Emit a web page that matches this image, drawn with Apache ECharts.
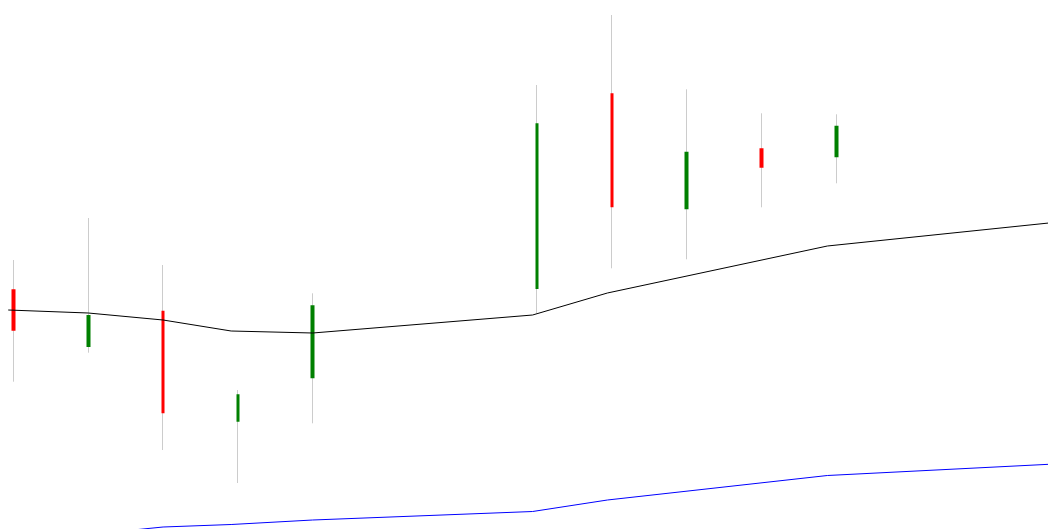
<!DOCTYPE html>
<html>
<head>
<meta charset="utf-8">
<script src="https://cdn.jsdelivr.net/npm/echarts@6/dist/echarts.min.js"></script>
<style>
  html, body { margin: 0; padding: 0; background: #fff; }
  #main { width: 1048px; height: 529px; }
</style>
</head>
<body>
<div id="main"></div>
<script>
    // day index of each candle (gap = no trading)
    const days = [0, 1, 2, 3, 4, 7, 8, 9, 10, 11]
    const opens  = [123.97, 118.2, 121.83, 110.73, 115.07, 124.0, 143.57, 131.97, 138.07, 137.17]
    const closes = [119.83, 121.4, 111.57, 113.47, 122.37, 140.57, 132.17, 137.73, 136.13, 140.33]
    const lows   = [114.73, 117.63, 107.9, 104.6, 110.57, 121.57, 126.07, 126.97, 132.17, 134.57]
    const highs  = [126.9, 131.1, 126.4, 113.9, 123.57, 144.4, 151.4, 143.97, 141.57, 141.47]

    // the two lines (x in day units)
    const lineX     = [-0.07, 1.0, 2.0, 2.91, 4.0, 6.94, 7.94, 10.88, 13.84]
    const blackLine = [121.9, 121.6, 120.9, 119.8, 119.6, 121.4, 123.6, 128.3, 130.6]
    const blueLine  = [99.0, 99.45, 100.2, 100.45, 100.9, 101.75, 102.9, 105.35, 106.47]

    let ohlc = []
    for (let i = 0; i < days.length; i++) {
        ohlc[i] = [days[i], opens[i], closes[i], lows[i], highs[i]]
    }
    let black = lineX.map((x, i) => [x, blackLine[i]])
    let blue = lineX.map((x, i) => [x, blueLine[i]])

    const myCharts = echarts.init(document.getElementById('main'))
    const option = {
        animation: false,
        grid: { left: 0, right: 0, top: 0, bottom: 0 },
        xAxis: {
            type: 'value',
            min: -0.18,
            max: 13.83,
            show: false
        },
        yAxis: {
            type: 'value',
            min: 100,
            max: 152.9,
            show: false
        },
        series: [
            {
                // wicks
                type: 'candlestick',
                data: ohlc,
                encode: { x: 0, y: [1, 2, 3, 4] },
                barWidth: 1,
                itemStyle: {
                    color: '#cccccc', color0: '#cccccc',
                    borderColor: '#cccccc', borderColor0: '#cccccc',
                    borderWidth: 1
                }
            },
            {
                // bodies
                type: 'candlestick',
                data: ohlc,
                encode: { x: 0, y: [1, 2, 3, 4] },
                barWidth: 4,
                itemStyle: {
                    color: '#008000', color0: '#ff0000',
                    borderColor: '#008000', borderColor0: '#ff0000',
                    borderWidth: 0
                }
            },
            {
                type: 'line',
                data: black,
                symbol: 'none',
                lineStyle: { color: '#000', width: 1 }
            },
            {
                type: 'line',
                data: blue,
                symbol: 'none',
                lineStyle: { color: '#0000ff', width: 1 }
            }
        ]
    }
    myCharts.setOption(option)
</script>
</body>
</html>
